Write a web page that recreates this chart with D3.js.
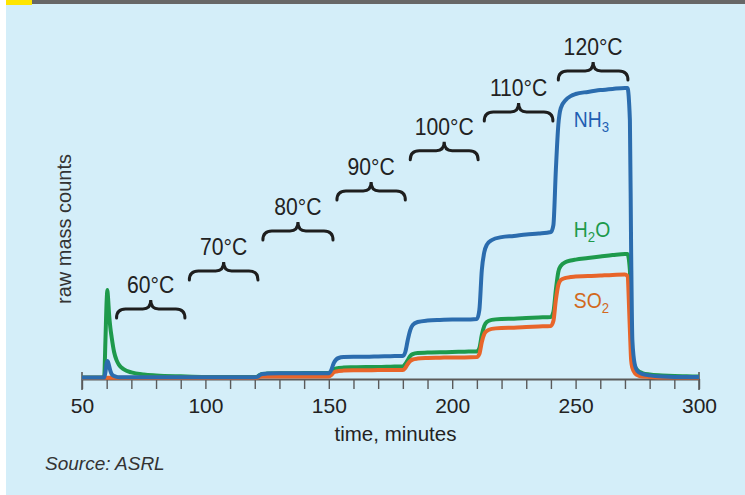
<!DOCTYPE html>
<html>
<head>
<meta charset="utf-8">
<script src="https://cdn.jsdelivr.net/npm/d3@7"></script>
<style>
  html, body { margin: 0; padding: 0; background: #ffffff; }
  svg { display: block; font-family: "Liberation Sans", Arial, sans-serif; }
</style>
</head>
<body>
<svg id="chart" width="745" height="495"></svg>
<script>
// ---------- data ----------
const minutes = [50, 55, 58, 59, 59.5, 60, 60.3, 60.5, 61, 61.5,
  62, 63, 64, 65, 67, 70, 75, 80, 90, 100,
  110, 120, 121, 122, 123, 125, 130, 135, 140, 145,
  150, 151, 152, 153, 154, 156, 160, 165, 170, 175,
  180, 181, 182, 183, 184, 186, 190, 195, 200, 205,
  210, 211, 212, 213, 214, 216, 220, 225, 230, 235,
  240, 241, 242, 243, 244, 246, 248, 250, 255, 260,
  265, 270, 271, 272, 272.5, 273, 274, 275, 277, 280,
  285, 290, 295, 300];

const nh3 = [0.5, 0.5, 0.5, 0.5, 2.3, 5.3, 6.0, 5.8, 4.3, 2.7,
  1.7, 1.0, 0.7, 0.6, 0.6, 0.6, 0.6, 0.6, 0.6, 0.6,
  0.6, 0.6, 0.7, 1.3, 1.7, 1.8, 1.9, 1.9, 1.9, 1.9,
  1.9, 3.0, 5.3, 6.5, 7.0, 7.3, 7.4, 7.4, 7.5, 7.6,
  7.7, 9.0, 13.0, 16.3, 18.0, 19.0, 19.5, 19.7, 19.8, 19.8,
  20.0, 23.0, 36.3, 42.3, 44.7, 46.3, 47.3, 47.7, 48.2, 48.5,
  49.0, 51.3, 69.7, 84.7, 90.3, 93.0, 94.3, 95.0, 95.7, 96.3,
  96.7, 97.0, 97.0, 86.3, 43.0, 13.0, 4.7, 2.7, 1.7, 1.2,
  0.8, 0.7, 0.7, 0.7];

const h2o = [0.5, 0.5, 0.5, 1.0, 13.0, 26.3, 29.7, 27.7, 21.3, 17.0,
  14.0, 9.0, 6.3, 4.7, 3.2, 2.2, 1.5, 1.2, 0.9, 0.7,
  0.7, 0.7, 0.8, 1.3, 1.7, 1.8, 1.9, 1.9, 2.0, 2.0,
  2.0, 2.5, 3.2, 3.5, 3.7, 3.8, 3.9, 4.0, 4.0, 4.1,
  4.2, 5.0, 6.3, 7.7, 8.3, 8.7, 8.8, 8.9, 9.0, 9.1,
  9.2, 10.3, 14.7, 17.7, 19.0, 19.7, 20.0, 20.1, 20.3, 20.5,
  20.7, 22.3, 29.7, 35.7, 37.7, 39.0, 39.5, 39.8, 40.3, 40.8,
  41.3, 41.7, 41.7, 36.3, 16.3, 8.0, 4.3, 3.0, 2.0, 1.5,
  1.2, 1.0, 0.9, 0.8];

const so2 = [0.4, 0.4, 0.4, 0.4, 0.4, 0.4, 0.4, 0.4, 0.4, 0.4,
  0.4, 0.4, 0.4, 0.4, 0.4, 0.4, 0.4, 0.4, 0.4, 0.4,
  0.4, 0.4, 0.5, 0.7, 0.8, 0.8, 0.8, 0.8, 0.8, 0.8,
  0.8, 1.3, 2.2, 2.5, 2.7, 2.8, 2.9, 2.9, 3.0, 3.0,
  3.0, 3.7, 5.0, 6.0, 6.5, 6.8, 7.0, 7.1, 7.2, 7.2,
  7.3, 8.3, 12.3, 15.0, 16.0, 16.7, 17.0, 17.1, 17.3, 17.5,
  17.7, 19.3, 26.3, 31.3, 33.0, 33.7, 34.0, 34.2, 34.3, 34.5,
  34.7, 34.8, 34.3, 16.3, 6.3, 3.7, 2.0, 1.3, 0.8, 0.7,
  0.5, 0.5, 0.5, 0.5];

const tickLabels = [50, 100, 150, 200, 250, 300];
const minorTicks = [50, 60, 70, 80, 90, 100, 110, 120, 130, 140, 150, 160, 170, 180, 190, 200, 210, 220, 230, 240, 250, 260, 270, 280, 290, 300];

const tempLabels = ["60°C", "70°C", "80°C", "90°C", "100°C", "110°C", "120°C"];
const tempStart = [64, 93.5, 123.3, 153.3, 183, 213, 243];
const tempEnd = [91.7, 121.3, 151.7, 181, 210.5, 240.8, 271.2];
const tempLevel = [26.3, 39.0, 52.3, 65.7, 79.1, 92.0, 105.7];

const seriesMain = ["NH", "H", "SO"];
const seriesSub = ["3", "2", "2"];
const seriesTail = ["", "O", ""];
const labelTime = [249.3, 249.3, 249.3];
const labelLevel = [84.0, 47.3, 23.7];

// ---------- drawing ----------
const svg = d3.select("#chart");
const W = 745, H = 495;

svg.append("rect").attr("x", 6).attr("y", 0).attr("width", W - 6).attr("height", H).attr("fill", "#d4eef9");
svg.append("rect").attr("x", 6).attr("y", 0).attr("width", W - 6).attr("height", 4).attr("fill", "#676767");
svg.append("rect").attr("x", 6).attr("y", 0).attr("width", 26).attr("height", 5).attr("fill", "#ffe500");

const x = d3.scaleLinear().domain([50, 300]).range([82, 699]);
const y = d3.scaleLinear().domain([0, 100]).range([379, 79]);

// axis
const axisG = svg.append("g").attr("transform", `translate(0,${y(0)})`);
axisG.call(d3.axisBottom(x).tickValues(minorTicks).tickSize(10).tickSizeOuter(0).tickPadding(9)
  .tickFormat(d => tickLabels.includes(d) ? d : ""));
axisG.select(".domain").attr("stroke", "#5a5a5a").attr("stroke-width", 2);
axisG.selectAll(".tick line").attr("stroke", "#5a5a5a").attr("stroke-width", 1.4);
axisG.selectAll(".tick text").attr("fill", "#222").attr("font-size", 21)
  .attr("font-family", "'Liberation Sans', Arial, sans-serif");
// end ticks that cross the axis
[50, 300].forEach(v => {
  axisG.append("line").attr("x1", x(v)).attr("x2", x(v)).attr("y1", -7).attr("y2", 11)
    .attr("stroke", "#5a5a5a").attr("stroke-width", 1.6);
});

svg.append("text").attr("x", x(175) + 5).attr("y", 441).attr("text-anchor", "middle")
  .attr("font-size", 20.5).attr("fill", "#222").text("time, minutes");

svg.append("text").attr("transform", `translate(71,229) rotate(-90)`).attr("text-anchor", "middle")
  .attr("font-size", 20).attr("fill", "#333").text("raw mass counts");

svg.append("text").attr("x", 45).attr("y", 470).attr("font-size", 19).attr("font-style", "italic")
  .attr("fill", "#333").text("Source: ASRL");

// lines
const pts = vals => minutes.map((m, i) => [m, vals[i]]);
const line = d3.line().x(d => x(d[0])).y(d => y(d[1])).curve(d3.curveMonotoneX);
const series = [
  { vals: h2o, color: "#1e9a4c" },
  { vals: so2, color: "#e8652a" },
  { vals: nh3, color: "#2b6cae" }
];
series.forEach(s => {
  svg.append("path").attr("d", line(pts(s.vals))).attr("fill", "none")
    .attr("stroke", s.color).attr("stroke-width", 4).attr("stroke-linejoin", "round");
});

// series labels (slightly condensed)
const labelColors = ["#1f5fb3", "#1d9a4c", "#d2691e"];
seriesMain.forEach((m, i) => {
  const t = svg.append("text")
    .attr("transform", `translate(${x(labelTime[i])},${y(labelLevel[i])}) scale(0.88,1)`)
    .attr("font-size", 22).attr("fill", labelColors[i]);
  t.append("tspan").text(m);
  t.append("tspan").attr("font-size", 15).attr("dy", 5).text(seriesSub[i]);
  if (seriesTail[i]) t.append("tspan").attr("dy", -5).text(seriesTail[i]);
});

// temperature braces
function brace(x0, x1, yt) {
  const h = 18, m = (x0 + x1) / 2, ym = yt + 9;
  return `M${x0},${yt + h} Q${x0},${ym} ${x0 + 9},${ym} L${m - 8},${ym} Q${m},${ym} ${m},${yt} ` +
    `Q${m},${ym} ${m + 8},${ym} L${x1 - 9},${ym} Q${x1},${ym} ${x1},${yt + h}`;
}
tempLabels.forEach((lab, i) => {
  const x0 = x(tempStart[i]), x1 = x(tempEnd[i]), yt = y(tempLevel[i]);
  svg.append("path").attr("d", brace(x0, x1, yt)).attr("fill", "none")
    .attr("stroke", "#1e1e1e").attr("stroke-width", 3).attr("stroke-linecap", "round");
  svg.append("text")
    .attr("transform", `translate(${(x0 + x1) / 2},${yt - 7}) scale(0.92,1)`)
    .attr("text-anchor", "middle")
    .attr("font-size", 23).attr("fill", "#222").text(lab);
});
</script>
</body>
</html>
